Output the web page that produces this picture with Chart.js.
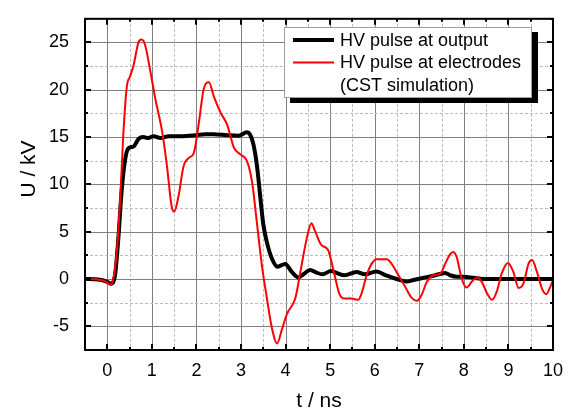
<!DOCTYPE html>
<html>
<head>
<meta charset="utf-8">
<script src="https://cdn.jsdelivr.net/npm/chart.js@4.4.0/dist/chart.umd.min.js"></script>
<style>
  html, body { margin: 0; padding: 0; background: #fff; }
</style>
</head>
<body>
<canvas id="pulseChart" width="570" height="412"></canvas>
<script>
// HV pulse at output (measured)
const tOut = [-0.5, -0.2, 0, 0.08, 0.17, 0.25, 0.32, 0.4, 0.47, 0.59, 0.7, 0.81, 0.92, 1.04, 1.19, 1.38, 1.68, 1.98, 2.2, 2.39, 2.69, 2.95, 3.13, 3.2, 3.28, 3.36, 3.43, 3.5, 3.58, 3.69, 3.82, 3.99, 4.14, 4.29, 4.4, 4.55, 4.68, 4.83, 5.02, 5.17, 5.32, 5.59, 5.78, 6.04, 6.27, 6.49, 6.72, 6.87, 7.1, 7.32, 7.58, 7.69, 7.84, 7.99, 8.21, 8.44, 9, 10];
const uOut = [0, -0.05, -0.3, -0.5, 0.3, 4.4, 9.2, 12.6, 13.8, 14.0, 14.8, 15.0, 14.9, 15.1, 14.9, 15.1, 15.1, 15.2, 15.3, 15.3, 15.2, 15.15, 15.5, 15.3, 14.2, 11.9, 8.8, 5.8, 3.9, 2.2, 1.3, 1.6, 0.75, 0.17, 0.5, 0.95, 0.7, 0.5, 0.85, 0.6, 0.4, 0.75, 0.5, 0.8, 0.35, 0, -0.27, -0.1, 0.14, 0.35, 0.65, 0.4, 0.24, 0.24, 0.14, 0, 0, 0];

// HV pulse at electrodes (CST simulation)
const tElec = [-0.5, -0.2, 0, 0.06, 0.13, 0.21, 0.29, 0.36, 0.44, 0.51, 0.59, 0.7, 0.77, 0.85, 0.96, 1.08, 1.23, 1.34, 1.44, 1.5, 1.6, 1.71, 1.83, 1.94, 2.06, 2.16, 2.28, 2.39, 2.54, 2.69, 2.84, 2.99, 3.13, 3.25, 3.36, 3.47, 3.58, 3.69, 3.81, 3.92, 4.03, 4.22, 4.33, 4.48, 4.58, 4.65, 4.8, 4.95, 5.1, 5.21, 5.32, 5.48, 5.63, 5.7, 5.82, 5.93, 6.04, 6.27, 6.38, 6.49, 6.68, 6.83, 6.95, 7.06, 7.17, 7.32, 7.48, 7.58, 7.69, 7.76, 7.84, 7.95, 8.06, 8.18, 8.29, 8.4, 8.52, 8.63, 8.74, 8.85, 8.99, 9.11, 9.23, 9.34, 9.45, 9.53, 9.64, 9.76, 9.85, 9.94, 10];
const uElec = [0, -0.05, -0.35, -0.6, -0.1, 2.7, 8.5, 15.3, 20.4, 21.4, 22.6, 25.0, 25.3, 24.7, 22.1, 19.0, 15.6, 11.9, 7.8, 7.1, 8.8, 11.9, 12.8, 13.3, 16.7, 20.0, 20.8, 19.3, 17.6, 16.3, 13.9, 13.15, 12.5, 10.2, 5.8, 1.4, -2.0, -5.1, -6.8, -5.3, -3.7, -2.0, 0.7, 4.4, 5.9, 5.2, 3.6, 3.1, 0.4, -1.6, -2.07, -2.07, -2.2, -1.6, 0.4, 1.6, 2.1, 2.1, 1.6, 0.75, -0.8, -2.0, -2.3, -1.6, -0.3, 0.4, 0.6, 1.6, 2.6, 2.85, 2.3, 0.07, -0.9, -0.27, 0.14, -0.27, -1.5, -2.2, -1.3, 0.6, 1.7, 0.75, -0.95, -0.44, 1.6, 2.0, 0.75, -1.1, -1.6, -0.8, -0.1];

const seriesLabels = ['HV pulse at output', 'HV pulse at electrodes', '(CST simulation)'];
const xTickValues = [0, 1, 2, 3, 4, 5, 6, 7, 8, 9, 10];
const yTickValues = [-5, 0, 5, 10, 15, 20, 25];
const xRange = [-0.5, 10], xStep = 1;
const yRange = [-7.5, 27.5], yStep = 5;

const FONT = '"Liberation Sans", Arial, sans-serif';

function pairs(xs, ys) {
    return xs.map((v, i) => ({ x: v, y: ys[i] }));
}

// values between min and max on a half-step grid
function gridValues(min, max, step) {
    const half = step / 2;
    const out = [];
    for (let v = Math.ceil(min / half) * half; v <= max + 1e-9; v += half) {
        const r = Math.round(v / half) * half;
        out.push({ v: r, major: Math.abs(r / step - Math.round(r / step)) < 1e-6 });
    }
    return out;
}

const framePlugin = {
    id: 'frame',
    beforeDatasetsDraw(chart) {
        const { ctx, chartArea: a, scales: { x, y } } = chart;
        ctx.save();
        ctx.lineWidth = 1;
        gridValues(xRange[0], xRange[1], xStep).forEach(g => {
            const px = Math.round(x.getPixelForValue(g.v)) + 0.5;
            ctx.strokeStyle = g.major ? '#808080' : '#bcbcbc';
            ctx.setLineDash(g.major ? [] : [3, 2]);
            ctx.beginPath(); ctx.moveTo(px, a.top); ctx.lineTo(px, a.bottom); ctx.stroke();
        });
        gridValues(yRange[0], yRange[1], yStep).forEach(g => {
            const py = Math.round(y.getPixelForValue(g.v)) + 0.5;
            ctx.strokeStyle = g.major ? '#808080' : '#bcbcbc';
            ctx.setLineDash(g.major ? [] : [3, 2]);
            ctx.beginPath(); ctx.moveTo(a.left, py); ctx.lineTo(a.right, py); ctx.stroke();
        });
        ctx.restore();
    },
    afterDatasetsDraw(chart) {
        const { ctx, chartArea: a, scales: { x, y } } = chart;
        ctx.save();
        ctx.strokeStyle = '#000';
        ctx.setLineDash([]);
        // inward ticks on all four sides
        gridValues(xRange[0], xRange[1], xStep).forEach(g => {
            const px = Math.round(x.getPixelForValue(g.v));
            const len = g.major ? 6 : 3;
            ctx.lineWidth = 2;
            ctx.beginPath();
            ctx.moveTo(px, a.bottom); ctx.lineTo(px, a.bottom - len);
            ctx.moveTo(px, a.top); ctx.lineTo(px, a.top + len);
            ctx.stroke();
        });
        gridValues(yRange[0], yRange[1], yStep).forEach(g => {
            const py = Math.round(y.getPixelForValue(g.v));
            const len = g.major ? 6 : 3;
            ctx.lineWidth = 2;
            ctx.beginPath();
            ctx.moveTo(a.left, py); ctx.lineTo(a.left + len, py);
            ctx.moveTo(a.right, py); ctx.lineTo(a.right - len, py);
            ctx.stroke();
        });
        ctx.lineWidth = 2;
        ctx.strokeRect(a.left, a.top, a.right - a.left, a.bottom - a.top);

        // axis titles
        ctx.fillStyle = '#000';
        ctx.font = '21px ' + FONT;
        ctx.textAlign = 'center';
        ctx.textBaseline = 'alphabetic';
        ctx.fillText('t / ns', (a.left + a.right) / 2, 407);
        ctx.translate(35, 169);
        ctx.rotate(-Math.PI / 2);
        ctx.fillText('U / kV', 0, 0);
        ctx.restore();
    },
    afterDraw(chart) {
        const { ctx } = chart;
        const bx = 284, by = 27, bw = 248, bh = 71;
        ctx.save();
        // shadow + box
        ctx.fillStyle = '#000';
        ctx.fillRect(bx + 6, by + 5, bw, bh);
        ctx.fillStyle = '#fff';
        ctx.fillRect(bx, by, bw, bh);
        ctx.strokeStyle = '#a0a0a0';
        ctx.lineWidth = 1;
        ctx.strokeRect(bx + 0.5, by + 0.5, bw - 1, bh - 1);

        const ds = chart.data.datasets;
        const rows = [
            { ds: ds[1], y: 40 },
            { ds: ds[0], y: 62.5 }
        ];
        rows.forEach(r => {
            ctx.strokeStyle = r.ds.borderColor;
            ctx.lineWidth = r.ds.borderWidth;
            ctx.beginPath(); ctx.moveTo(293, r.y); ctx.lineTo(334, r.y); ctx.stroke();
        });
        ctx.fillStyle = '#000';
        ctx.font = '18px ' + FONT;
        ctx.textAlign = 'left';
        ctx.textBaseline = 'middle';
        ctx.fillText(seriesLabels[0], 340, 41);
        ctx.fillText(seriesLabels[1], 340, 63);
        ctx.fillText(seriesLabels[2], 340, 86);
        ctx.restore();
    }
};

const ctxPulse = document.getElementById('pulseChart').getContext('2d');
const pulseChart = new Chart(ctxPulse, {
    type: 'line',
    data: {
        datasets: [{
            label: seriesLabels[1] + ' ' + seriesLabels[2],
            data: pairs(tElec, uElec),
            borderColor: '#ff0000',
            borderWidth: 2,
            pointRadius: 0,
            cubicInterpolationMode: 'monotone',
            order: 0
        }, {
            label: seriesLabels[0],
            data: pairs(tOut, uOut),
            borderColor: '#000000',
            borderWidth: 4,
            pointRadius: 0,
            cubicInterpolationMode: 'monotone',
            order: 1
        }]
    },
    plugins: [framePlugin],
    options: {
        responsive: false,
        animation: false,
        devicePixelRatio: 1,
        layout: { padding: { top: 6, right: 17, left: 0, bottom: 0 } },
        plugins: {
            legend: { display: false },
            tooltip: { enabled: false }
        },
        scales: {
            x: {
                type: 'linear',
                min: xRange[0],
                max: xRange[1],
                grid: { display: false },
                border: { display: false },
                afterBuildTicks: s => { s.ticks = xTickValues.map(v => ({ value: v })); },
                ticks: {
                    color: '#000',
                    padding: 2,
                    font: { family: FONT, size: 18 },
                    maxRotation: 0
                },
                afterFit: s => { s.height = 62; }
            },
            y: {
                type: 'linear',
                min: yRange[0],
                max: yRange[1],
                grid: { display: false },
                border: { display: false },
                afterBuildTicks: s => { s.ticks = yTickValues.map(v => ({ value: v })); },
                ticks: {
                    color: '#000',
                    padding: 8,
                    font: { family: FONT, size: 18 }
                },
                afterFit: s => { s.width = 85; }
            }
        }
    }
});
</script>
</body>
</html>
